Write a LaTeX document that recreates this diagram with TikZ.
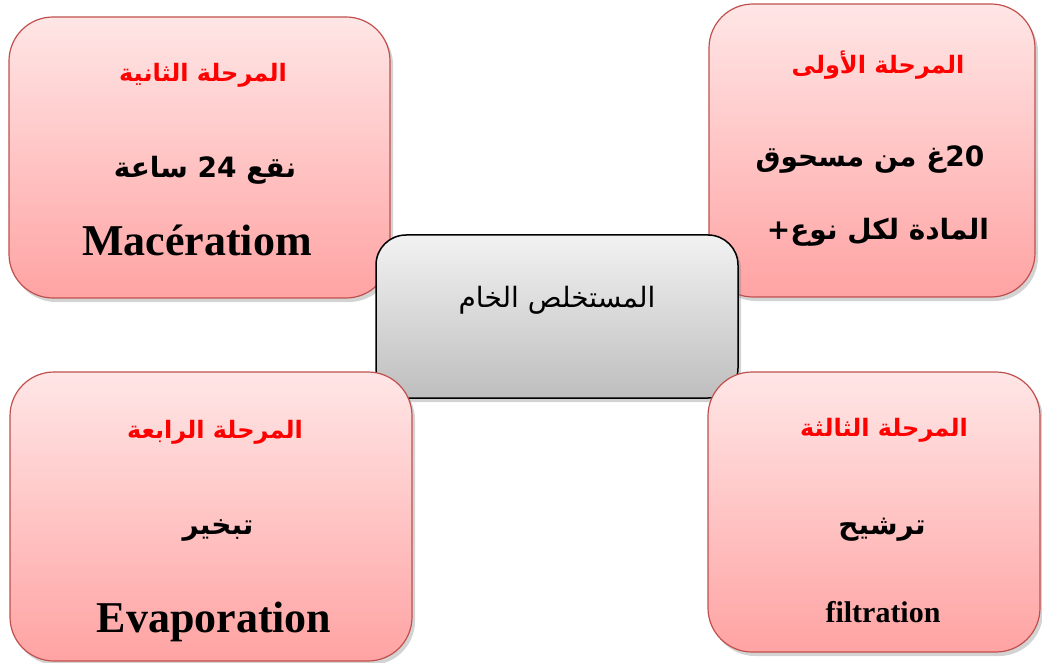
\documentclass[tikz,border=0pt]{standalone}
\usepackage{fontspec}
\setmainfont{Liberation Serif}
\newfontfamily\arabicfont[Script=Arabic]{DejaVu Sans}
\TeXXeTstate=1
\usetikzlibrary{shadows}
\definecolor{pinktop}{RGB}{255,230,230}
\definecolor{pinkbot}{RGB}{255,163,163}
\definecolor{pinkline}{RGB}{192,80,77}
\definecolor{graytop}{RGB}{242,242,242}
\definecolor{graybot}{RGB}{190,190,190}
\definecolor{titlered}{RGB}{255,0,0}
\tikzset{
  stagebox/.style={draw=pinkline, line width=1.2pt, rounded corners=44pt,
    top color=pinktop, bottom color=pinkbot,
    drop shadow={shadow xshift=3pt, shadow yshift=-4pt, opacity=0.35},
    inner sep=0pt},
  centerbox/.style={draw=black, line width=1.5pt, rounded corners=30pt,
    top color=graytop, bottom color=graybot,
    drop shadow={shadow xshift=3pt, shadow yshift=-4pt, opacity=0.35},
    inner sep=0pt},
  titletxt/.style={font=\arabicfont\bfseries\fontsize{24}{28}\selectfont, text=titlered, inner sep=0pt},
  artxt/.style={font=\arabicfont\bfseries\fontsize{28}{32}\selectfont, inner sep=0pt},
  latxt/.style={font=\bfseries\fontsize{44}{50}\selectfont, inner sep=0pt},
}
\begin{document}
\begin{tikzpicture}[x=1pt,y=-1pt]
\useasboundingbox (0,0) rectangle (1042,663);
% top boxes
\node[stagebox, minimum width=326pt, minimum height=293pt] (b1) at (872,150.5) {};
\node[stagebox, minimum width=381pt, minimum height=281pt] (b2) at (199.5,157.5) {};
% center
\node[centerbox, minimum width=362pt, minimum height=163pt] (c) at (557,316.5) {};
\node[font=\arabicfont\fontsize{28}{32}\selectfont, inner sep=0pt] (ct) at (557,300) {\beginR المستخلص الخام\endR};
% bottom boxes
\node[stagebox, minimum width=402pt, minimum height=289pt] (b4) at (211,516.5) {};
\node[stagebox, minimum width=332pt, minimum height=280pt] (b3) at (874,512) {};
% texts stage 1
\node[titletxt] (t1) at (878,65) {\beginR المرحلة الأولى\endR};
\node[artxt] (t1a) at (870,160) {\beginR\beginL 20\endL غ من مسحوق\endR};
\node[artxt] (t1b) at (878,232) {\beginR المادة لكل نوع+\endR};
% stage 2
\node[titletxt] (t2) at (203,75) {\beginR المرحلة الثانية\endR};
\node[artxt] (t2a) at (205,170) {\beginR نقع \beginL24\endL{} ساعة\endR};
\node[latxt] (t2b) at (197,240) {Macératiom};
% stage 4
\node[titletxt] (t4) at (215,432) {\beginR المرحلة الرابعة\endR};
\node[artxt] (t4a) at (218,530) {\beginR تبخير\endR};
\node[latxt] (t4b) at (214,622) {Evaporation};
% stage 3
\node[titletxt] (t3) at (884,430) {\beginR المرحلة الثالثة\endR};
\node[artxt] (t3a) at (882,530) {\beginR ترشيح\endR};
\node[font=\bfseries\fontsize{30}{34}\selectfont, inner sep=0pt] (t3b) at (883,612) {filtration};
\end{tikzpicture}
\end{document}
